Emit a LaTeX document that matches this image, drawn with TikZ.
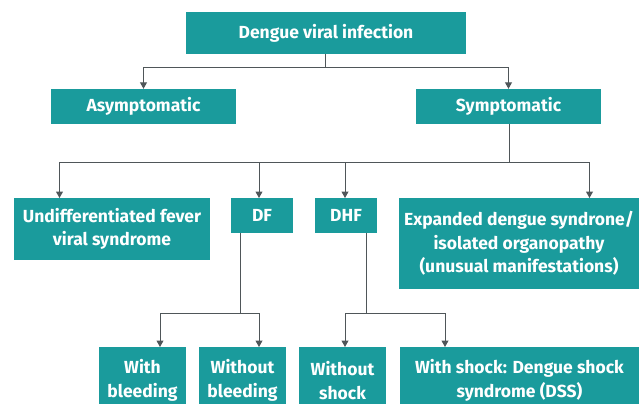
\documentclass[tikz,border=0pt]{standalone}
\usepackage{fontspec}
\setmainfont{Fira Sans}
\usetikzlibrary{arrows.meta,calc}
\definecolor{teal1}{HTML}{1A9B9C}
\definecolor{linec}{HTML}{4F5659}
\begin{document}
\begin{tikzpicture}[x=1pt,y={(0,-1pt)},
  box/.style={fill=teal1,text=white,font=\fontsize{17.5}{23.5}\selectfont\bfseries,align=center,inner sep=0pt,minimum height=#1},
  box/.default=35pt,
  arr/.style={draw=linec,line width=1pt,-{Triangle[width=7pt,length=6.5pt]}},
  ln/.style={draw=linec,line width=1pt}]
\useasboundingbox (0,0) rectangle (640,404);
\node[box=42pt,minimum width=280pt] (top) at (326,33) {Dengue viral infection};
\node[box,minimum width=185pt] (asym) at (143.5,106.5) {Asymptomatic};
\node[box,minimum width=185pt] (sym) at (508.5,106.5) {Symptomatic};
\node[box=62pt,minimum width=196pt] (und) at (112,229) {Undifferentiated fever\\viral syndrome};
\node[box,minimum width=62pt] (df) at (262,215.5) {DF};
\node[box,minimum width=62pt] (dhf) at (346,215.5) {DHF};
\node[box=91pt,minimum width=240pt] (exp) at (519,243.5) {Expanded dengue syndrone/\\isolated organopathy\\(unusual manifestations)};
\node[box=67pt,minimum width=87pt] (wb) at (142.5,380.5) {With\\bleeding};
\node[box=67pt,minimum width=87pt] (wob) at (242.5,380.5) {Without\\bleeding};
\node[box=67pt,minimum width=87pt] (wos) at (342.5,380.5) {Without\\shock};
\node[box=67pt,minimum width=239pt] (ws) at (519.5,380.5) {With shock: Dengue shock\\syndrome (DSS)};
% top level
\coordinate (j1) at (325,68);
\draw[ln] (top.south -| j1) -- (j1);
\draw[arr] (j1) -| (asym.north);
\draw[arr] (j1) -| (sym.north);
% symptomatic
\coordinate (j2) at (509,162);
\coordinate (a1) at (59.5,198);
\coordinate (a2) at (259,198);
\coordinate (a3) at (345,198);
\coordinate (a4) at (589.5,198);
\draw[ln] (sym.south -| j2) -- (j2);
\draw[arr] (j2) -| (a1);
\draw[arr] (j2) -| (a4);
\draw[arr] (a2 |- j2) -- (a2);
\draw[arr] (a3 |- j2) -- (a3);
% DF
\coordinate (j3) at (240,313);
\draw[ln] (df.south -| j3) -- (j3);
\draw[arr] (j3) -| (160,347) coordinate (b1);
\draw[arr] (j3) -| (259,347) coordinate (b2);
% DHF
\coordinate (j4) at (366,313);
\draw[ln] (dhf.south -| j4) -- (j4);
\draw[arr] (j4) -| (345,347) coordinate (b3);
\draw[arr] (j4) -| (445,347) coordinate (b4);
\end{tikzpicture}
\end{document}
